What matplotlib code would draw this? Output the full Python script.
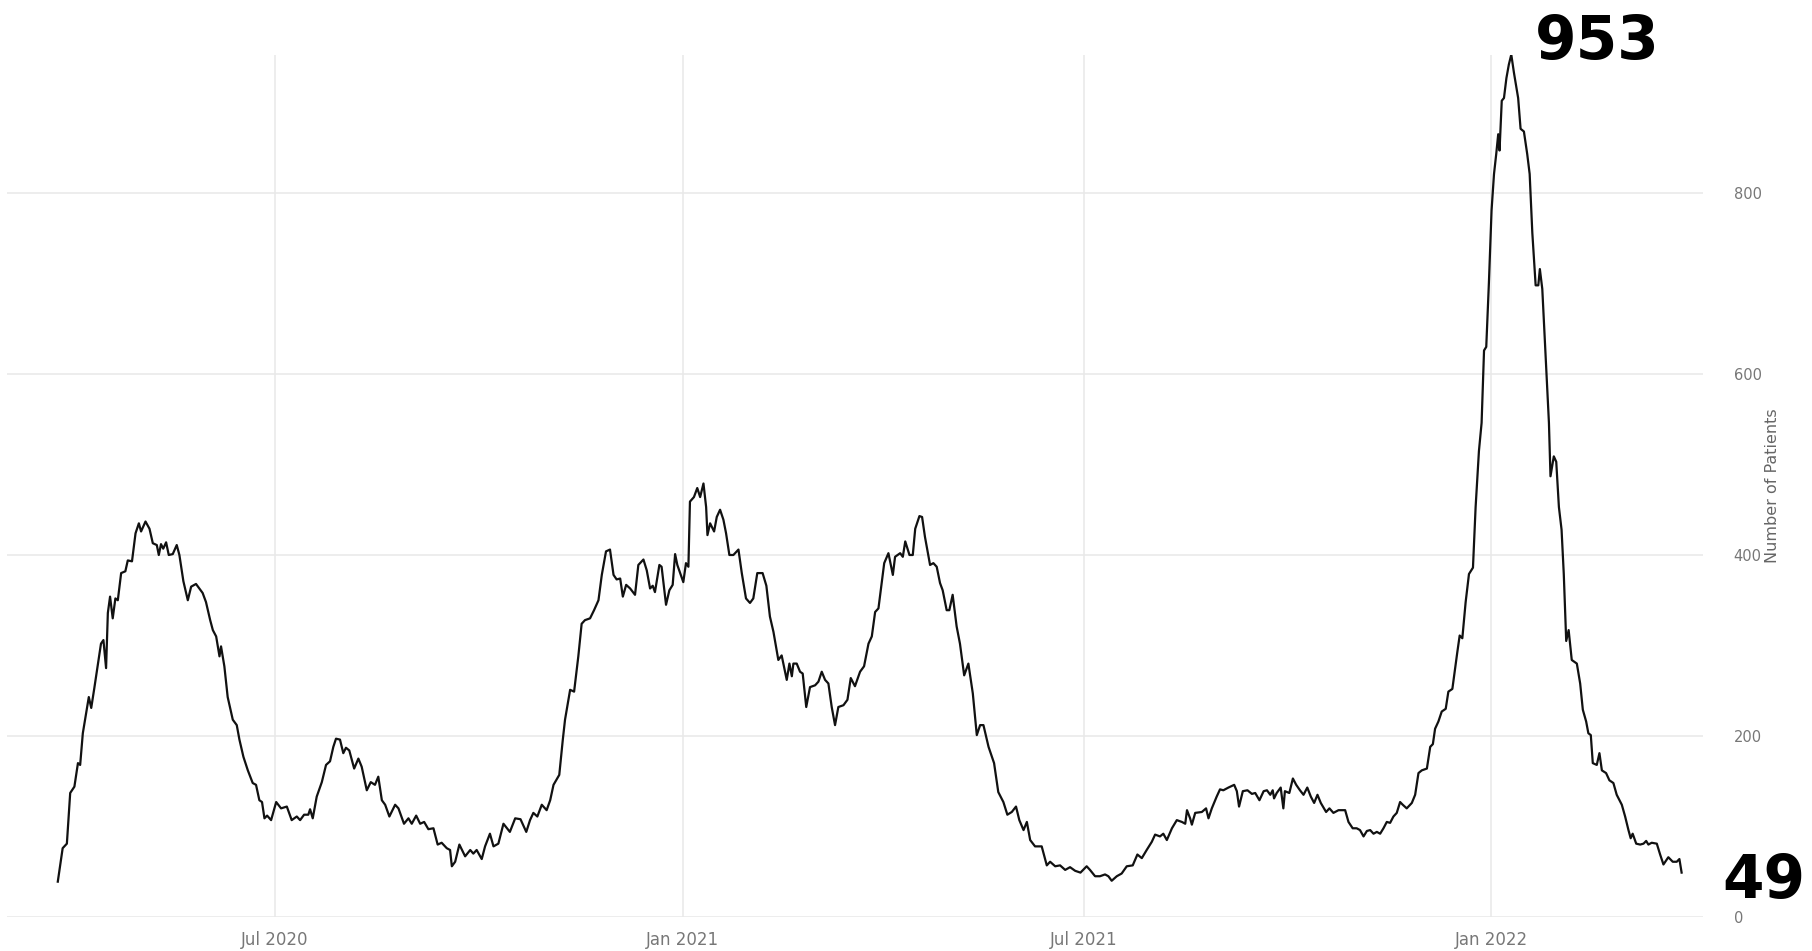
import numpy as np
import pandas as pd
import matplotlib
matplotlib.use("Agg")
import matplotlib.pyplot as plt
import matplotlib.dates as mdates

# days counted from 1 Jul 2020
day = [
    -98.1, -95.9, -94, -92.5, -90.6, -89, -88, -86.8, -84.1, -83, -81.6, -78.6, -77.5, -76.3,
    -75.5, -74.5, -73.3, -72.1, -71, -69.5, -67.6, -66.5, -64.6, -63, -61.5, -60.5, -58.5,
    -56.7, -55.2, -53.4, -52.5, -51.5, -50.5, -49.2, -48, -46.2, -44.4, -43.2, -41.4, -39.4,
    -37.9, -35.7, -32.7, -31.2, -29.3, -28.1, -26.6, -25.1, -24.4, -22.9, -21.4, -19.1, -17.3,
    -16.1, -14.3, -12.3, -10.1, -8.6, -7.1, -5.9, -4.8, -3.6, -1.8, 0.5, 2.7, 5.3,
    7.5, 9.8, 11.3, 13.1, 15, 15.8, 17, 18.8, 21.1, 23, 24.8, 26.3, 27.5, 29.3, 30.8, 32, 33.5,
    35.7, 37.6, 39.1, 41.4, 43.2, 45.1, 46.6, 48.2, 49.7, 51.6, 54.2, 55.7, 58.2, 60.2, 61.7,
    63.7, 65.5, 67.3, 69.2, 71.5, 73.4, 75.2, 77.5, 79, 79.8, 81.3, 83.2, 85.8, 88.1, 89.5, 91,
    93.3, 94.8, 97, 98.6, 100.8, 103.1, 106, 108.4, 110.8, 113.4,
    115.1, 116.6, 118.4, 120.4, 122.6, 124.2, 125.7, 128.3, 129.9, 130.9, 133.2, 135, 136.9,
    138.4, 139.9, 142.2, 144, 146, 147.5, 149.4, 151.2, 152.8, 154.2, 155.8, 157, 158.5, 160.3,
    162.5, 164, 166.3, 167.8, 169.3, 170.5, 171.5, 173.5, 174.5, 176.5, 178, 179.5, 180.6,
    181.6, 184.3, 185.5, 186.6, 187.3, 189.1, 190.6, 191.9, 193.4, 194.6, 195.2, 196.4, 198.2,
    199.4, 200.9, 202.4, 203.6, 205.1, 206.9, 209.2, 210.7, 212.6, 214.4, 215.9, 217.7, 220.1,
    221.8, 223.4,
    225, 227.2, 228.7, 231, 232.2, 233.3, 234, 235.5, 237, 238.2, 239.8, 241.5, 243.8, 245.3,
    246.8, 248.3, 249.8, 251.3, 252.8, 254.3, 256.6, 258.4, 259.9, 261.8, 264.1, 265.9, 267.9,
    269.4, 270.9, 272.4, 275, 276.9, 278.9, 279.9, 282.2, 283.4, 284.5, 286.4, 287.9, 289,
    290.9, 292.1, 293.4, 295.7, 297.2, 298.7, 300.2, 301.4, 303.2, 304.4, 305.9, 307.7, 309.2,
    311.1, 313, 315, 316.8, 318.3, 319.8, 322.1,
    324.6, 326.5, 328.8, 330.6, 332.6, 334.5, 336, 337.9, 339.4, 340.9, 343.1, 346.1, 348.4,
    349.9, 352.2, 354.4, 356.7, 358.9, 361.2, 363.6, 366.4, 367.9, 370.2, 372.4, 374.7, 376.2,
    377.7, 380, 382.2, 384.5, 387.2, 389.3, 391.3, 393.5, 395.8, 397.3, 399.5, 401, 402.6,
    404.9, 407.1, 409.4, 410.9, 411.7, 413.1, 413.9, 415.4, 418.4, 420.3, 421.4, 422.9, 425.1,
    426.6, 428.1,
    430.4, 433, 434.2, 435.2, 436.9, 439, 441, 442.5, 444.4, 446.3, 447.8, 449.3, 450.4, 451,
    452.2, 454, 455.2, 455.9, 457.9, 459.5, 461, 462.7, 464.3, 466, 467.6, 469.1, 470.6, 472.1,
    474.5, 476, 477.8, 480.1, 483.1, 484.6, 486.5, 488.3, 489.8, 491.4, 492.9, 494.4, 495.9,
    497.4, 498.9, 500.4, 501.9, 503.4, 504.9, 506.4, 507.9, 509.1, 510.9, 513.2, 514.7, 516.2,
    517.7, 520, 521.5, 522.7, 523.7, 525.2, 526.7,
    528.5, 529.7, 531.5, 532.7, 533.7, 534.8, 536, 537.5, 539, 540.8, 542, 543.5, 544.7, 545.8,
    546.8, 548, 549.2, 550.3, 551.3, 552.2, 552.8, 553.8, 554.8, 555.9, 557, 558.1, 559.3,
    561.2, 562.3, 563.8, 565.3, 566.4, 567.6, 569.1, 570.3, 571, 572.1, 573.6, 575.1, 575.8,
    577.3, 578.4, 579.6, 580.8, 581.8, 582.9, 584, 585.4, 587.7, 589.2, 590.4, 591.9, 592.9,
    594, 594.9, 596.7, 597.9, 599, 600.9, 602.4, 604.2, 605.7, 608, 609.5, 611, 612, 612.9,
    614.5, 616.3, 617.8, 619, 620, 621.5, 623.8, 625.3, 626.8, 629, 631, 632.8, 634, 635,
]
patients = [
    39, 76, 81, 137, 144, 170, 168, 203, 243, 231, 253, 302, 306, 275,
    336, 354, 330, 352, 350, 380, 382, 394, 393, 424, 435, 426, 437,
    429, 413, 411, 400, 412, 407, 414, 400, 401, 411, 400, 371, 350,
    365, 368, 358, 348, 328, 317, 310, 288, 299, 277, 243, 218, 212,
    196, 177, 162, 148, 146, 129, 127, 109, 112, 107, 127, 120, 122,
    107, 111, 107, 113, 113, 119, 109, 133, 149, 168, 172, 188, 197, 196, 181, 187, 184,
    164, 175, 166, 140, 149, 146, 155, 129, 124, 111, 124, 120, 103, 109, 103,
    112, 103, 105, 97, 98, 80, 82, 76, 74, 56, 61, 80, 67, 74, 70, 74,
    64, 78, 92, 78, 81, 103, 94, 109, 108, 94,
    107, 115, 111, 124, 118, 129, 146, 157, 196, 218, 251, 249, 288,
    324, 328, 330, 339, 350, 378, 404, 406, 378, 373, 374, 354, 367, 363,
    356, 389, 395, 383, 363, 366, 359, 389, 387, 345, 361, 367, 401,
    389, 370, 391, 387, 459, 464, 474, 464, 479, 453, 422, 435, 426,
    442, 450, 439, 424, 400, 400, 406, 380, 352, 347, 352, 380, 380,
    366, 332,
    315, 284, 289, 262, 280, 266, 280, 280, 271, 269, 232, 254, 256, 260,
    271, 262, 258, 232, 212, 232, 234, 240, 264, 255, 271, 277, 302,
    310, 337, 341, 391, 402, 378, 398, 402, 398, 415, 400, 400, 429,
    443, 442, 420, 389, 391, 387, 369, 361, 339, 339, 356, 321, 302,
    267, 280, 247, 201, 212, 212, 188,
    170, 138, 127, 113, 116, 122, 107, 96, 105, 85, 78, 78, 57,
    61, 56, 57, 52, 55, 51, 49, 56, 52, 45, 45, 47, 45,
    40, 45, 48, 56, 57, 69, 65, 74, 83, 91, 89, 92, 85,
    98, 107, 105, 103, 118, 109, 102, 115, 116, 120, 109, 120, 133,
    141, 140,
    143, 146, 139, 122, 139, 140, 136, 137, 129, 139, 140, 135, 140, 131,
    137, 143, 120, 139, 137, 153, 146, 140, 135, 143, 133, 126, 135, 126,
    116, 120, 115, 118, 118, 105, 98, 98, 96, 89, 95, 96, 92,
    94, 92, 98, 105, 104, 111, 115, 127, 124, 120, 126, 135, 159,
    162, 164, 188, 191, 208, 216, 227,
    230, 249, 252, 274, 292, 311, 308, 348, 379, 386, 453, 515, 546, 626,
    630, 701, 781, 821, 843, 865, 847, 902, 905, 927, 942, 953, 933,
    905, 871, 868, 843, 821, 756, 698, 698, 716, 694, 620, 546, 487,
    509, 503, 453, 428, 379, 305, 317, 284, 280, 258, 229, 216, 203,
    201, 170, 168, 181, 162, 159, 151, 148, 135, 124, 111, 96, 87, 92,
    81, 80, 81, 84, 80, 82, 81, 69, 58, 66, 61, 61, 64, 49,
]

base = pd.Timestamp("2020-07-01")
dates = base + pd.to_timedelta(day, unit="D")
patients = np.array(patients)

fig = plt.figure(figsize=(18.12, 9.51), dpi=100)
ax = fig.add_axes([0.0039, 0.0358, 0.936, 0.9068])

ax.plot(dates, patients, color="#111111", lw=1.6, zorder=3)

ax.set_xlim(base + pd.Timedelta(days=-121), base + pd.Timedelta(days=644.7))
ax.set_ylim(0, patients.max())

ax.xaxis.set_major_locator(mdates.MonthLocator(bymonth=[1, 7]))
ax.xaxis.set_major_formatter(mdates.DateFormatter("%b %Y"))
ax.set_yticks([0, 200, 400, 600, 800])

ax.yaxis.tick_right()
ax.yaxis.set_label_position("right")
ax.tick_params(axis="both", length=0, labelcolor="#777777")
ax.tick_params(axis="y", pad=22, labelsize=10.5)
ax.tick_params(axis="x", pad=10, labelsize=12)
for lab in ax.get_yticklabels():
    lab.set_horizontalalignment("left")
ax.set_ylabel("Number of Patients", fontsize=11.5, color="#666666", labelpad=2)

ax.grid(True, color="#e8e8e8", lw=1.1, zorder=0)
for s in ax.spines.values():
    s.set_visible(False)

# big labels for peak and latest value
i_max = int(np.argmax(patients))
ax.annotate(str(patients[i_max]), xy=(dates[i_max], patients[i_max]),
            xytext=(24, -4), textcoords="offset pixels", fontsize=43,
            fontweight="bold", va="baseline", ha="left", color="black",
            annotation_clip=False)
ax.annotate(str(patients[-1]), xy=(dates[-1], patients[-1]),
            xytext=(41, -25), textcoords="offset pixels", fontsize=43,
            fontweight="bold", va="baseline", ha="left", color="black",
            annotation_clip=False)

fig.savefig("out.png", dpi=100)
